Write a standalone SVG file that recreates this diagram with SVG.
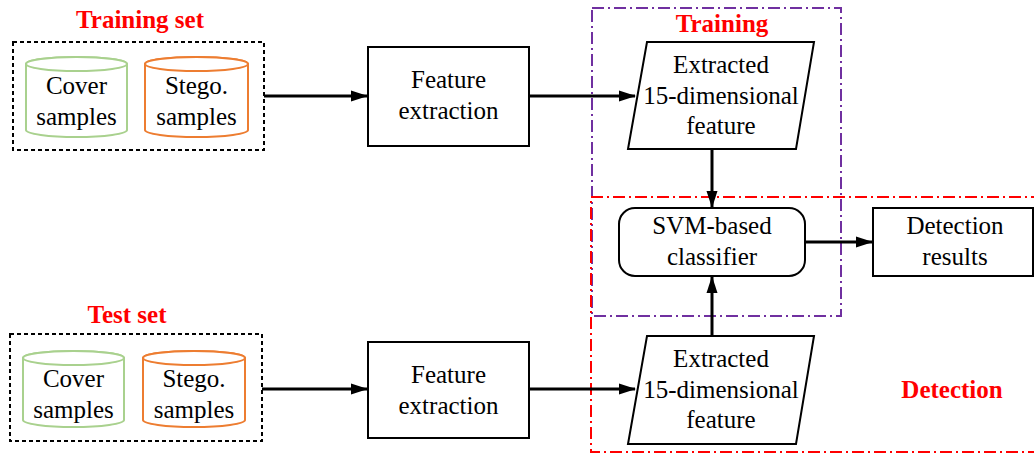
<svg xmlns="http://www.w3.org/2000/svg" width="1034" height="453" viewBox="0 0 1034 453">
<style>
text{font-family:"Liberation Serif","Times New Roman",serif;font-size:25px;fill:#000;text-anchor:middle}
.lbl{font-weight:bold;fill:#ff0000;font-size:25px}
.box{fill:#fff;stroke:#000;stroke-width:2}
.set{fill:none;stroke:#000;stroke-width:2;stroke-dasharray:4 3}
.cg{fill:#fff;stroke:#a9d18e;stroke-width:2}
.co{fill:#fff;stroke:#ed7d31;stroke-width:2}
.edge{stroke:#000;stroke-width:3;fill:none;marker-end:url(#ah)}
</style>
<defs>
<marker id="ah" markerWidth="17" markerHeight="12" refX="16" refY="6" orient="auto" markerUnits="userSpaceOnUse"><path d="M0,0.5 L17,6 L0,11.5 z" fill="#000"/></marker>
</defs>
<rect width="1034" height="453" fill="#fff"/>
<g id="regions">
<rect x="592" y="8" width="249" height="308" fill="none" stroke="#7030a0" stroke-width="2" stroke-dasharray="12 4 2 4"/>
<rect x="591" y="197" width="460" height="255" fill="none" stroke="#ff0000" stroke-width="2" stroke-dasharray="12 4 2 4"/>
<text class="lbl" x="722" y="32">Training</text>
<text class="lbl" x="952" y="398">Detection</text>
</g>
<g id="training-set">
<text class="lbl" x="140" y="28">Training set</text>
<rect class="set" x="13" y="42" width="251" height="108"/>
<path class="cg" d="M26,64 A50.5,7 0 0 1 127,64 L127,130 A50.5,7 0 0 1 26,130 Z"/>
<ellipse class="cg" cx="76.5" cy="64" rx="50.5" ry="7"/>
<text x="76.5" y="94">Cover</text><text x="76.5" y="125">samples</text>
<path class="co" d="M145,64 A51.5,7 0 0 1 248,64 L248,130 A51.5,7 0 0 1 145,130 Z"/>
<ellipse class="co" cx="196.5" cy="64" rx="51.5" ry="7"/>
<text x="196.5" y="94">Stego.</text><text x="196.5" y="125">samples</text>
</g>
<g id="test-set">
<text class="lbl" x="127" y="323">Test set</text>
<rect class="set" x="10" y="334" width="252" height="107"/>
<path class="cg" d="M23,358 A50.5,7 0 0 1 124,358 L124,420 A50.5,7 0 0 1 23,420 Z"/>
<ellipse class="cg" cx="73.5" cy="358" rx="50.5" ry="7"/>
<text x="73.5" y="387">Cover</text><text x="73.5" y="418">samples</text>
<path class="co" d="M143,358 A51,7 0 0 1 245,358 L245,420 A51,7 0 0 1 143,420 Z"/>
<ellipse class="co" cx="194" cy="358" rx="51" ry="7"/>
<text x="194" y="387">Stego.</text><text x="194" y="418">samples</text>
</g>
<g id="fe-train">
<rect class="box" x="368" y="47" width="161" height="99"/>
<text x="448.5" y="88">Feature</text><text x="448.5" y="119">extraction</text>
</g>
<g id="fe-test">
<rect class="box" x="368" y="342" width="161" height="96"/>
<text x="448.5" y="383">Feature</text><text x="448.5" y="414">extraction</text>
</g>
<g id="feat-train">
<polygon class="box" points="647,42 814,42 796,149 628,149"/>
<text x="721" y="73">Extracted</text><text x="721" y="104">15-dimensional</text><text x="721" y="134">feature</text>
</g>
<g id="feat-test">
<polygon class="box" points="647,336 814,336 796,444 628,444"/>
<text x="721" y="367">Extracted</text><text x="721" y="398">15-dimensional</text><text x="721" y="428">feature</text>
</g>
<g id="svm">
<rect class="box" x="619" y="208" width="186" height="68" rx="16"/>
<text x="712" y="234">SVM-based</text><text x="712" y="265">classifier</text>
</g>
<g id="results">
<rect class="box" x="873" y="208" width="160" height="68"/>
<text x="955" y="234">Detection</text><text x="955" y="265">results</text>
</g>
<g id="connectors">
<line class="edge" x1="264" y1="96" x2="367" y2="96"/>
<line class="edge" x1="529" y1="96" x2="635" y2="96"/>
<line class="edge" x1="712" y1="149" x2="712" y2="207"/>
<line class="edge" x1="805" y1="242" x2="872" y2="242"/>
<line class="edge" x1="712" y1="336" x2="712" y2="277"/>
<line class="edge" x1="262" y1="389" x2="367" y2="389"/>
<line class="edge" x1="529" y1="389" x2="635" y2="389"/>
</g>
</svg>
